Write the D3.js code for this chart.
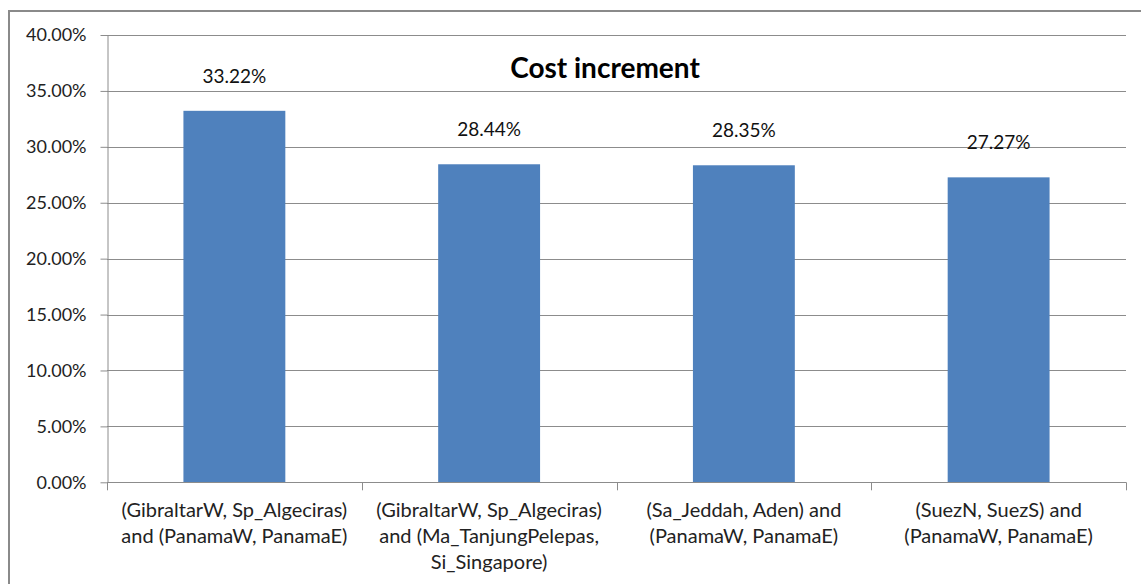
<!DOCTYPE html>
<html>
<head>
<meta charset="utf-8">
<script src="https://cdn.jsdelivr.net/npm/d3@7"></script>
<style>
  body { margin: 0; background: #fff; }
  svg { display: block; font-family: Lato, "Open Sans", sans-serif; }
</style>
</head>
<body>
<div id="chart"></div>
<script>
// chart data
var categories = [
    "(GibraltarW, Sp_Algeciras)\nand (PanamaW, PanamaE)",
    "(GibraltarW, Sp_Algeciras)\nand (Ma_TanjungPelepas,\nSi_Singapore)",
    "(Sa_Jeddah, Aden) and\n(PanamaW, PanamaE)",
    "(SuezN, SuezS) and\n(PanamaW, PanamaE)"
];
var costIncrement = [0.3322, 0.2844, 0.2835, 0.2727];
var yTicks = [0, 0.05, 0.10, 0.15, 0.20, 0.25, 0.30, 0.35, 0.40];
var title = "Cost increment";

var W = 1141, H = 584;
var plotLeft = 107, plotRight = 1126, plotTop = 35, plotBottom = 482.3;

var svg = d3.select("#chart").append("svg")
    .attr("width", W)
    .attr("height", H);

// outer chart border (runs off the right and bottom of the picture)
svg.append("rect")
    .attr("x", 9).attr("y", 11)
    .attr("width", 1160).attr("height", 620)
    .attr("fill", "none")
    .attr("stroke", "#8a8a8a")
    .attr("stroke-width", 2);

var y = d3.scaleLinear().domain([0, 0.40]).range([plotBottom, plotTop]);
var x = d3.scaleBand()
    .domain(categories)
    .range([plotLeft, plotRight])
    .paddingInner(0.6)
    .paddingOuter(0.3);

// gridlines
svg.append("g")
    .selectAll("line")
    .data(yTicks)
    .enter().append("line")
        .attr("x1", plotLeft).attr("x2", plotRight)
        .attr("y1", function (d) { return Math.round(y(d)) + 0.5; })
        .attr("y2", function (d) { return Math.round(y(d)) + 0.5; })
        .attr("stroke", "#8c8c8c")
        .attr("stroke-width", 1);

// y axis
var yAxis = svg.append("g")
    .attr("transform", "translate(" + (plotLeft + 0.5) + ",0)")
    .call(d3.axisLeft(y)
        .tickValues(yTicks)
        .tickFormat(d3.format(".2%"))
        .tickSizeInner(7)
        .tickSizeOuter(0)
        .tickPadding(14));
yAxis.selectAll("line, path").attr("stroke", "#8c8c8c");
yAxis.selectAll("text")
    .attr("font-size", "18px")
    .attr("font-family", "Lato, sans-serif")
    .attr("fill", "#222");

// bars
svg.append("g")
    .selectAll("rect")
    .data(costIncrement)
    .enter().append("rect")
        .attr("x", function (d, i) { return x(categories[i]); })
        .attr("y", function (d) { return y(d); })
        .attr("width", x.bandwidth())
        .attr("height", function (d) { return y(0) - y(d); })
        .attr("fill", "#4f81bd");

// x axis line and ticks at the band edges
var step = x.step();
var xa = svg.append("g");
xa.append("line")
    .attr("x1", plotLeft).attr("x2", plotRight)
    .attr("y1", Math.round(y(0)) + 0.5).attr("y2", Math.round(y(0)) + 0.5)
    .attr("stroke", "#8c8c8c");
xa.selectAll(".tick")
    .data(d3.range(categories.length + 1))
    .enter().append("line")
        .attr("x1", function (i) { return Math.round(plotLeft + i * step) + 0.5; })
        .attr("x2", function (i) { return Math.round(plotLeft + i * step) + 0.5; })
        .attr("y1", y(0))
        .attr("y2", y(0) + 8)
        .attr("stroke", "#8c8c8c");

// category labels
var cat = svg.append("g")
    .selectAll("text")
    .data(categories)
    .enter().append("text")
        .attr("text-anchor", "middle")
        .attr("font-size", "20px")
        .attr("fill", "#222")
        .attr("transform", function (d) {
            return "translate(" + (x(d) + x.bandwidth() / 2) + "," + 517 + ")";
        });
cat.selectAll("tspan")
    .data(function (d) { return d.split("\n"); })
    .enter().append("tspan")
        .attr("x", 0)
        .attr("y", function (d, i) { return i * 26; })
        .text(function (d) { return d; });

// data labels
svg.append("g")
    .selectAll("text")
    .data(costIncrement)
    .enter().append("text")
        .attr("text-anchor", "middle")
        .attr("font-size", "19px")
        .attr("fill", "#111")
        .attr("x", function (d, i) { return x(categories[i]) + x.bandwidth() / 2; })
        .attr("y", function (d) { return y(d) - 28; })
        .text(function (d) { return d3.format(".2%")(d); });

// title
svg.append("text")
    .attr("x", 605)
    .attr("y", 78)
    .attr("text-anchor", "middle")
    .attr("font-size", "28px")
    .attr("font-weight", "bold")
    .attr("fill", "#000")
    .text(title);
</script>
</body>
</html>
